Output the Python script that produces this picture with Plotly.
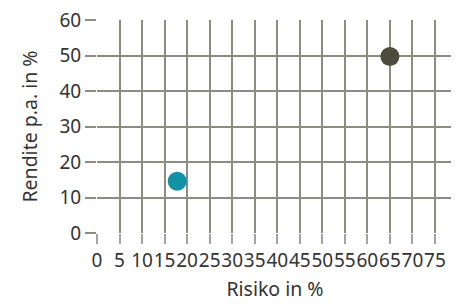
import plotly.graph_objects as go

risk = [17.8, 65.0]
ret = [14.6, 49.7]
colors = ["#1292a6", "#4b4b3e"]
x_ticks = list(range(0, 80, 5))
y_ticks = list(range(0, 70, 10))

fig = go.Figure()
fig.add_trace(go.Scatter(
    x=risk, y=ret, mode="markers",
    marker=dict(size=19, color=colors, line=dict(width=0)),
    showlegend=False, hoverinfo="skip"))

font = dict(family="Noto Sans, sans-serif", size=18, color="#333333")
# page body has an 8px default margin, so the figure is sized to fit inside it
fig.update_layout(
    width=451, height=299,
    margin=dict(l=89, r=6, t=12, b=74, autoexpand=False),
    paper_bgcolor="white", plot_bgcolor="white",
    font=font,
    xaxis=dict(range=[0, 79], tickvals=x_ticks, ticktext=[str(v) for v in x_ticks],
               tickangle=0, showgrid=True, gridcolor="#8c8c80", gridwidth=2,
               ticks="outside", ticklen=10, tickwidth=2, tickcolor="#a3a3a0",
               zeroline=False, showline=False, automargin=False,
               ticklabeloverflow="allow",
               title=dict(text="Risiko in %", standoff=10, font=dict(size=19.5)),
               tickfont=dict(size=19)),
    yaxis=dict(range=[0, 60], tickvals=y_ticks, showgrid=True, gridcolor="#8c8c80", gridwidth=2,
               ticks="outside", ticklen=11, tickwidth=2, tickcolor="#8c8c80",
               zeroline=False, showline=False, automargin=False,
               ticklabeloverflow="allow",
               title=dict(text="Rendite p.a. in %", standoff=16, font=dict(size=19.5)),
               tickfont=dict(size=19)),
)
fig.write_html("out.html")
